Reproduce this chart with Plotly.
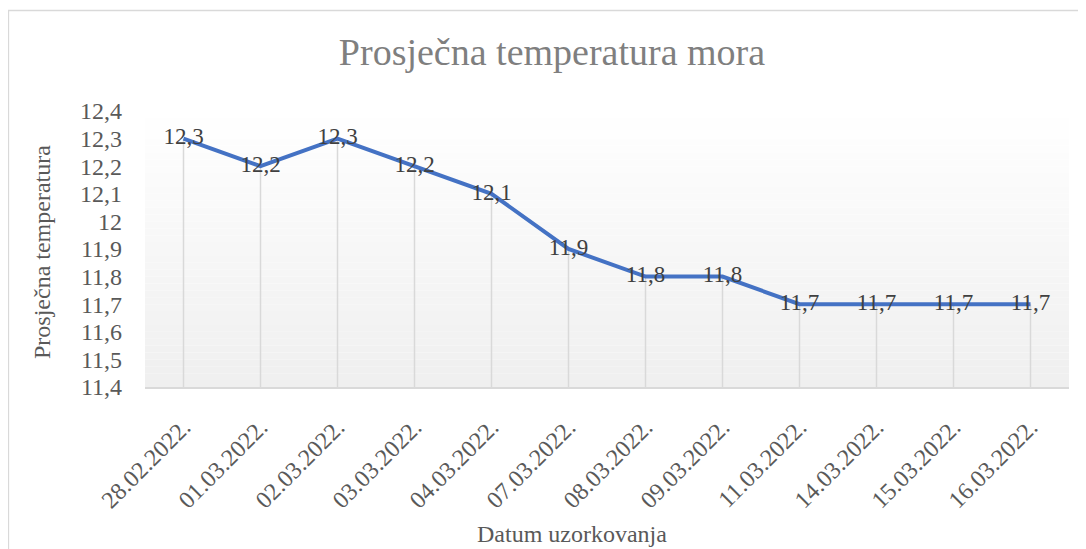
import plotly.graph_objects as go

categories = ["28.02.2022.", "01.03.2022.", "02.03.2022.", "03.03.2022.", "04.03.2022.",
              "07.03.2022.", "08.03.2022.", "09.03.2022.", "11.03.2022.", "14.03.2022.",
              "15.03.2022.", "16.03.2022."]
temperatures = [12.3, 12.2, 12.3, 12.2, 12.1, 11.9, 11.8, 11.8, 11.7, 11.7, 11.7, 11.7]
y_ticks = [11.4, 11.5, 11.6, 11.7, 11.8, 11.9, 12.0, 12.1, 12.2, 12.3, 12.4]
y_tick_labels = ["11,4", "11,5", "11,6", "11,7", "11,8", "11,9", "12", "12,1", "12,2", "12,3", "12,4"]
title_text = "Prosječna temperatura mora"
x_title = "Datum uzorkovanja"
y_title = "Prosječna temperatura"

# page body has an 8px margin: work in reference pixels and shift
OFF = 8
W, H = 1086 - OFF, 549 - OFF
L, R, T, B = 145 - OFF, 1069 - OFF, 111 - OFF, 387 - OFF
FONT = "Liberation Serif"
y_min, y_max = 11.4, 12.4

def px_to_paper_x(px):
    return (px - OFF - L) / (R - L)

def px_to_paper_y(py):
    return (B - (py - OFF)) / (B - T)

labels = [f"{v:.1f}".replace(".", ",") for v in temperatures]

fig = go.Figure()

# drop lines
fig.add_trace(go.Scatter(
    x=categories, y=temperatures, mode="markers",
    marker=dict(size=1, color="rgba(0,0,0,0)"),
    error_y=dict(type="data", symmetric=False,
                 array=[0] * len(temperatures),
                 arrayminus=[v - y_min for v in temperatures],
                 color="#d9d9d9", thickness=1.5, width=0),
    hoverinfo="skip", showlegend=False,
))

fig.add_trace(go.Scatter(
    x=categories, y=temperatures, mode="lines+text",
    line=dict(color="#4472C4", width=4),
    text=labels, textposition="middle center",
    textfont=dict(family=FONT, size=23, color="#404040"),
    showlegend=False,
))

# gradient plot background
n = 40
for i in range(n):
    c = int(round(255 - (255 - 239) * (i + 0.5) / n))
    fig.add_shape(type="rect", xref="paper", yref="paper",
                  x0=0, x1=1, y0=1 - (i + 1) / n, y1=1 - i / n,
                  fillcolor=f"rgb({c},{c},{c})", line=dict(width=0), layer="below")

# chart border
fig.add_shape(type="rect", xref="paper", yref="paper",
              x0=px_to_paper_x(8.5), x1=px_to_paper_x(1300),
              y0=px_to_paper_y(900), y1=px_to_paper_y(10.5),
              line=dict(color="#d9d9d9", width=1.3), fillcolor="rgba(0,0,0,0)", layer="below")

fig.update_layout(
    width=W, height=H,
    margin=dict(l=L, r=W - R, t=T, b=H - B, pad=0),
    paper_bgcolor="white", plot_bgcolor="rgba(0,0,0,0)",
    font=dict(family=FONT, size=24, color="#595959"),
    title=dict(text=title_text, x=px_to_paper_x(552), xref="paper", xanchor="center",
               y=1 - (52 - OFF) / H, yref="container", yanchor="middle",
               font=dict(family=FONT, size=38, color="#7f7f7f")),
    annotations=[
        dict(text=x_title, xref="paper", yref="paper", x=px_to_paper_x(572), y=px_to_paper_y(534),
             showarrow=False, xanchor="center", yanchor="middle",
             font=dict(family=FONT, size=24, color="#595959")),
        dict(text=y_title, xref="paper", yref="paper", x=px_to_paper_x(42), y=px_to_paper_y(252),
             showarrow=False, xanchor="center", yanchor="middle", textangle=-90,
             font=dict(family=FONT, size=24, color="#595959")),
    ],
)

fig.update_xaxes(type="category", range=[-0.5, len(categories) - 0.5],
                 showgrid=False, zeroline=False, showline=True, linecolor="#d9d9d9", linewidth=1.5,
                 ticks="", tickangle=-45, ticklabelstandoff=15,
                 tickfont=dict(family=FONT, size=24, color="#595959"))
fig.update_yaxes(range=[y_min, y_max], tickvals=y_ticks, ticktext=y_tick_labels,
                 showgrid=False, zeroline=False, showline=False, ticks="",
                 ticklabelstandoff=22,
                 tickfont=dict(family=FONT, size=24, color="#595959"))

fig.write_html("out.html")
